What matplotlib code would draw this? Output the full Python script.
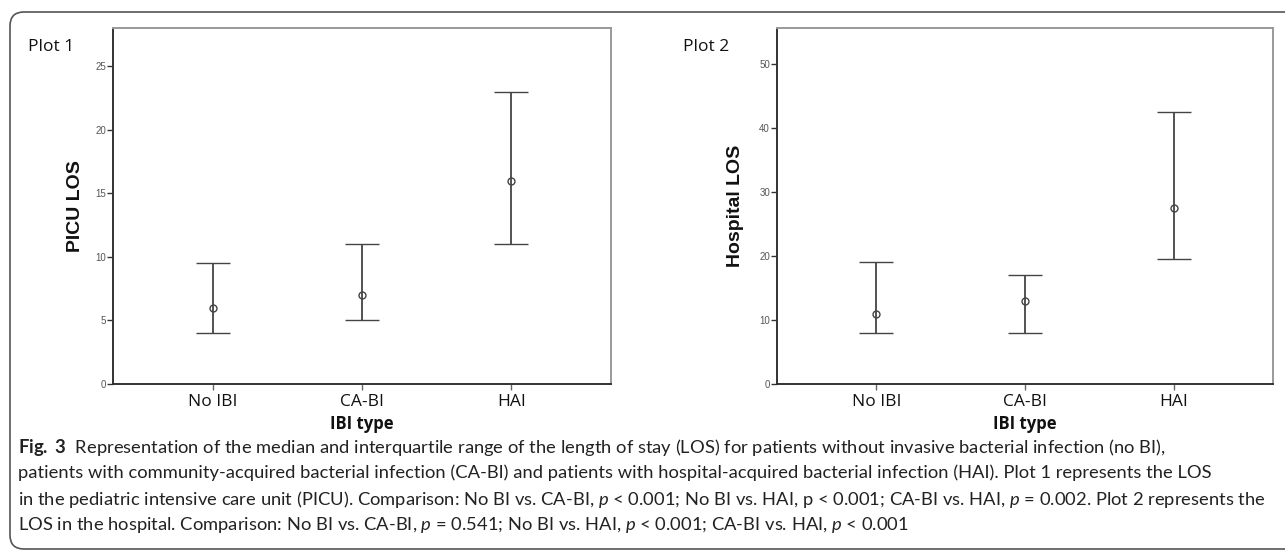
import matplotlib
matplotlib.use("Agg")
import matplotlib.pyplot as plt
from matplotlib.patches import FancyBboxPatch
from matplotlib.transforms import IdentityTransform
import matplotlib.font_manager as fm

# ---------------- data ----------------
categories = ["No IBI", "CA-BI", "HAI"]
picu_median = [6, 7, 16]
picu_q1 = [4, 5, 11]
picu_q3 = [9.5, 11, 23]
hosp_median = [11, 13, 27.5]
hosp_q1 = [8, 8, 19.5]
hosp_q3 = [19, 17, 42.5]
picu_ticks = [0, 5, 10, 15, 20, 25]
hosp_ticks = [0, 10, 20, 30, 40, 50]
plot_titles = ["Plot 1", "Plot 2"]
ylabels = ["PICU LOS", "Hospital LOS"]
xlabel = "IBI type"

caption_lines = [
    r"$\mathbf{Fig.\ 3}$  Representation of the median and interquartile range of the length of stay (LOS) for patients without invasive bacterial infection (no BI),",
    "patients with community-acquired bacterial infection (CA-BI) and patients with hospital-acquired bacterial infection (HAI). Plot 1 represents the LOS",
    r"in the pediatric intensive care unit (PICU). Comparison: No BI vs. CA-BI, $p$ < 0.001; No BI vs. HAI, p < 0.001; CA-BI vs. HAI, $p$ = 0.002. Plot 2 represents the",
    r"LOS in the hospital. Comparison: No BI vs. CA-BI, $p$ = 0.541; No BI vs. HAI, $p$ < 0.001; CA-BI vs. HAI, $p$ < 0.001",
]

# ---------------- fonts ----------------
available = {f.name for f in fm.fontManager.ttflist}
cap_font = "DejaVu Sans"
for cand in ["Liberation Sans Narrow", "Lato"]:
    if cand in available:
        cap_font = cand
        break
plt.rcParams["mathtext.fontset"] = "custom"
plt.rcParams["mathtext.rm"] = cap_font
plt.rcParams["mathtext.it"] = cap_font + ":italic"
plt.rcParams["mathtext.bf"] = cap_font + ":bold"

W, H = 1285, 552
fig = plt.figure(figsize=(W / 100, H / 100), dpi=100)

# outer rounded frame (pixel coordinates)
frame = FancyBboxPatch((10, 3), 1320, H - 12 - 3,
                       boxstyle="round,pad=0,rounding_size=14",
                       transform=IdentityTransform(), fill=False,
                       edgecolor="#555555", linewidth=1.2, clip_on=False)
fig.patches.append(frame)

def px_axes(x0, x1, ytop, ybot):
    return [x0 / W, 1 - ybot / H, (x1 - x0) / W, (ybot - ytop) / H]

axes_specs = [
    (px_axes(113, 611, 28, 384), picu_median, picu_q1, picu_q3, picu_ticks, 28.0, -0.076),
    (px_axes(777, 1273, 28, 384), hosp_median, hosp_q1, hosp_q3, hosp_ticks, 55.6, -0.083),
]
title_x = [28, 683]

for i, (rect, med, q1, q3, ticks, ytop, ylab_x) in enumerate(axes_specs):
    ax = fig.add_axes(rect)
    x = list(range(len(categories)))
    lower = [m - a for m, a in zip(med, q1)]
    upper = [b - m for m, b in zip(med, q3)]
    ax.errorbar(x, med, yerr=[lower, upper], fmt="o", color="#444444",
                ecolor="#444444", elinewidth=1.3, capsize=12.2, capthick=1.6,
                markersize=5, markerfacecolor="none", markeredgecolor="#444444",
                markeredgewidth=1.0)
    ax.set_xlim(-2 / 3, 8 / 3)
    ax.set_ylim(0, ytop)
    ax.set_xticks(x)
    ax.set_xticklabels(categories, fontsize=12.5, family="Open Sans", color="#111111")
    ax.set_yticks(ticks)
    ax.set_yticklabels([str(t) for t in ticks], fontsize=7,
                       family="Liberation Sans", color="#555555")
    ax.tick_params(axis="y", length=4, width=1.0, color="#333333", pad=1)
    ax.tick_params(axis="x", length=4, width=1.0, color="#666666", pad=3)
    for s in ["left", "bottom"]:
        ax.spines[s].set_color("#333333")
        ax.spines[s].set_linewidth(1.4)
    for s in ["top", "right"]:
        ax.spines[s].set_color("#999999")
        ax.spines[s].set_linewidth(1.4)
    ax.set_ylabel(ylabels[i], fontsize=14, family="Liberation Sans",
                  fontweight="bold", color="#111111")
    ax.yaxis.set_label_coords(ylab_x, 0.5)
    ax.yaxis.label.set_verticalalignment("center")
    ax.set_xlabel(xlabel, fontsize=12, family="Open Sans",
                  fontweight="bold", color="#111111")
    ax.xaxis.set_label_coords(0.5, -0.088)
    fig.text(title_x[i] / W, 1 - 47 / H, plot_titles[i], fontsize=12.5,
             family="Open Sans", color="#111111", va="center", ha="left")

# caption, font size fitted so that line 3 spans the target width
renderer = fig.canvas.get_renderer()
probe = fig.text(0, 0, caption_lines[2], fontsize=12, family=cap_font)
wpx = probe.get_window_extent(renderer).width
probe.remove()
cap_size = 12 * (1242 / wpx)
cap_y = [447, 473, 499, 525]
for line, yy in zip(caption_lines, cap_y):
    fig.text(18 / W, 1 - yy / H, line, fontsize=cap_size, family=cap_font,
             color="#222222", va="center", ha="left")

fig.savefig("out.png", dpi=100)
